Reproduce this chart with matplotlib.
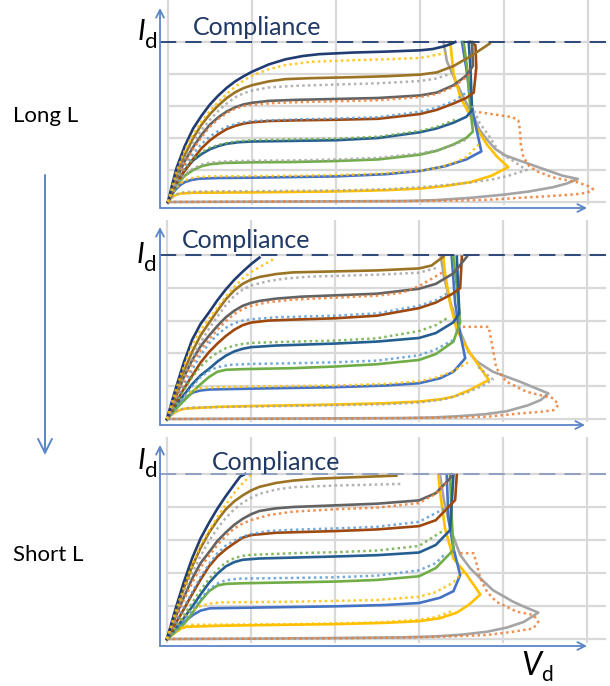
import matplotlib
matplotlib.use("Agg")
import matplotlib.pyplot as plt

# ---------------------------------------------------------------------------
# Id-Vd output curves, three gate lengths (long -> short).
# Each curve is a list of (Vd, Id) points in grid units; Id = 5 is compliance.
# Solid = measured set A, dotted = measured set B.
# ---------------------------------------------------------------------------

NAVY = "#213C73"
DGOLD = "#9A7424"
DGRAY = "#636363"
RUST = "#9E480E"
DBLUE = "#255E91"
GREEN = "#70AD47"
BLUE = "#4472C4"
GOLD = "#FFC000"
LGRAY = "#A5A5A5"
ORANGE = "#ED7D31"
LBLUE = "#5B9BD5"
AXIS_BLUE = "#5A86C8"
GRID = "#D9D9D9"

COMPLIANCE = 5.0
X_GRID = [0, 1, 2, 3, 4, 5]
Y_GRID = [0, 1, 2, 3, 4, 5]

# ---------------- Long L ----------------
P1_LGRAY = [(0, 0), (1, 0.01), (2, 0.02), (2.8, 0.03), (3.2, 0.06), (3.6, 0.13), (4.0, 0.23), (4.3, 0.33),
            (4.58, 0.46), (4.75, 0.58), (4.88, 0.72), (4.7, 0.82), (4.45, 1.05), (4.2, 1.28), (4.02, 1.45),
            (3.9, 1.65), (3.8, 1.94), (3.71, 2.25), (3.64, 2.66), (3.55, 3.1), (3.42, 3.8), (3.32, 4.4),
            (3.28, 5.0)]
P1_GOLD = [(0, 0), (0.03, 0.1), (0.06, 0.17), (0.1, 0.23), (0.14, 0.26), (0.3, 0.29), (1, 0.3), (2, 0.33),
           (2.6, 0.37), (3, 0.42), (3.3, 0.5), (3.6, 0.62), (3.85, 0.82), (4.05, 1.09), (3.92, 1.41),
           (3.8, 1.78), (3.69, 2.25), (3.56, 2.88), (3.48, 3.28), (3.4, 4.0), (3.36, 5.0)]
P1_BLUE = [(0, 0), (0.04, 0.2), (0.08, 0.36), (0.14, 0.52), (0.2, 0.62), (0.28, 0.69), (0.38, 0.73),
           (0.6, 0.75), (1, 0.76), (2, 0.8), (2.6, 0.87), (3, 0.97), (3.3, 1.12), (3.55, 1.33), (3.73, 1.58),
           (3.67, 2.3), (3.6, 3.2), (3.55, 4.2), (3.5, 5.0)]
P1_GREEN = [(0, 0), (0.05, 0.3), (0.1, 0.52), (0.2, 0.82), (0.3, 1.0), (0.4, 1.12), (0.5, 1.18), (0.66, 1.22),
            (1.0, 1.24), (1.5, 1.25), (2.0, 1.28), (2.5, 1.33), (3.0, 1.48), (3.2, 1.6), (3.4, 1.8),
            (3.55, 2.0), (3.63, 2.2), (3.6, 2.9), (3.56, 4.2), (3.52, 5.0)]
P1_DBLUE = [(0, 0), (0.05, 0.3), (0.1, 0.6), (0.2, 1.0), (0.3, 1.3), (0.4, 1.5), (0.5, 1.65), (0.6, 1.75),
            (0.7, 1.82), (0.85, 1.87), (1.0, 1.89), (1.5, 1.91), (2.0, 1.93), (2.5, 2.0), (3.0, 2.18),
            (3.2, 2.3), (3.4, 2.48), (3.55, 2.66), (3.62, 2.86), (3.6, 4.2), (3.58, 5.0)]
P1_RUST = [(0, 0), (0.05, 0.3), (0.1, 0.58), (0.2, 0.98), (0.3, 1.35), (0.4, 1.68), (0.5, 1.93), (0.6, 2.12),
           (0.7, 2.28), (0.8, 2.38), (0.9, 2.45), (1.0, 2.49), (1.2, 2.53), (1.5, 2.55), (2.0, 2.57),
           (2.5, 2.6), (3.0, 2.75), (3.2, 2.88), (3.4, 3.08), (3.55, 3.25), (3.64, 3.42), (3.67, 4.2),
           (3.66, 4.9), (3.6, 5.0)]
P1_DGRAY = [(0, 0), (0.05, 0.36), (0.1, 0.72), (0.2, 1.28), (0.3, 1.72), (0.4, 2.1), (0.5, 2.42), (0.6, 2.65),
            (0.7, 2.83), (0.8, 2.96), (0.9, 3.05), (1.0, 3.1), (1.2, 3.16), (1.5, 3.19), (2.0, 3.22),
            (2.5, 3.25), (3.0, 3.33), (3.2, 3.42), (3.4, 3.65), (3.55, 3.95), (3.63, 4.25), (3.62, 5.0)]
P1_DGOLD = [(0, 0), (0.05, 0.42), (0.1, 0.82), (0.2, 1.47), (0.3, 2.0), (0.4, 2.42), (0.5, 2.75), (0.6, 3.02),
            (0.7, 3.25), (0.8, 3.43), (0.9, 3.56), (1.0, 3.65), (1.2, 3.77), (1.4, 3.84), (1.7, 3.87),
            (2.2, 3.9), (2.6, 3.93), (3.0, 3.98), (3.2, 4.05), (3.4, 4.25), (3.6, 4.55), (3.83, 4.95)]
P1_NAVY = [(0, 0), (0.05, 0.55), (0.1, 1.05), (0.2, 1.75), (0.3, 2.3), (0.4, 2.7), (0.5, 3.05), (0.6, 3.33),
           (0.7, 3.57), (0.8, 3.77), (0.9, 3.93), (1.0, 4.07), (1.2, 4.3), (1.4, 4.46), (1.6, 4.56),
           (1.8, 4.62), (2.2, 4.67), (2.6, 4.7), (3.0, 4.74), (3.15, 4.78), (3.28, 4.86), (3.38, 4.95),
           (3.42, 5.0)]

P1_DOT_ORANGE = [(0, 0), (2, 0.02), (3, 0.03), (3.5, 0.05), (3.8, 0.07), (4.19, 0.13), (4.58, 0.19),
                 (4.85, 0.24), (4.99, 0.29), (5.06, 0.4), (5.0, 0.5), (4.87, 0.62), (4.58, 0.77), (4.4, 0.95),
                 (4.3, 1.12), (4.23, 1.41), (4.2, 1.8), (4.19, 2.25), (4.17, 2.55), (4.1, 2.65), (3.9, 2.73),
                 (3.69, 2.81)]
P1_DOT_GRAY_LOW = [(0, 0), (0.04, 0.12), (0.08, 0.21), (0.13, 0.27), (0.2, 0.31), (0.4, 0.33), (1, 0.34),
                   (2, 0.36), (2.6, 0.4), (3, 0.46), (3.3, 0.53), (3.6, 0.61), (3.85, 0.7), (4.05, 0.82),
                   (4.27, 1.0), (4.1, 1.3), (3.95, 1.53), (3.83, 2.03), (3.71, 2.47), (3.62, 3.0)]
P1_DOT_GOLD_LOW = [(0, 0), (0.05, 0.28), (0.1, 0.46), (0.17, 0.62), (0.25, 0.73), (0.35, 0.78), (0.5, 0.8),
                   (1.0, 0.81), (1.5, 0.82), (2.0, 0.84), (2.5, 0.88), (3.0, 0.98), (3.2, 1.06), (3.4, 1.22),
                   (3.55, 1.4), (3.7, 1.8)]
P1_DOT_GRAY_MID = [(0, 0), (0.05, 0.32), (0.1, 0.55), (0.2, 0.86), (0.3, 1.05), (0.4, 1.17), (0.5, 1.23),
                   (0.7, 1.27), (1.0, 1.29), (1.5, 1.3), (2.0, 1.33), (2.5, 1.38), (3.0, 1.52), (3.2, 1.62),
                   (3.4, 1.78), (3.55, 1.95)]
P1_DOT_GREEN = [(0, 0), (0.1, 0.62), (0.2, 1.05), (0.3, 1.35), (0.4, 1.56), (0.5, 1.7), (0.65, 1.82),
                (0.8, 1.89), (1.0, 1.93), (1.5, 1.96), (2.0, 1.98), (2.5, 2.04), (3.0, 2.22), (3.2, 2.35),
                (3.45, 2.6)]
P1_DOT_LBLUE = [(0, 0), (0.1, 0.6), (0.2, 1.1), (0.3, 1.5), (0.4, 1.82), (0.5, 2.05), (0.6, 2.22), (0.7, 2.35),
                (0.85, 2.47), (1.0, 2.53), (1.5, 2.58), (2.0, 2.61), (2.5, 2.65), (3.0, 2.82), (3.2, 2.95),
                (3.4, 3.15), (3.6, 3.5)]
P1_DOT_ORANGE_HI = [(0, 0), (0.1, 0.65), (0.2, 1.2), (0.3, 1.65), (0.4, 2.03), (0.5, 2.35), (0.6, 2.6),
                    (0.7, 2.78), (0.8, 2.92), (0.9, 3.0), (1.0, 3.04), (1.3, 3.1), (1.7, 3.13), (2.5, 3.18),
                    (3.0, 3.28), (3.2, 3.38), (3.4, 3.6), (3.6, 4.0)]
P1_DOT_GRAY_HI = [(0, 0), (0.1, 0.72), (0.2, 1.35), (0.3, 1.85), (0.4, 2.25), (0.5, 2.57), (0.6, 2.85),
                  (0.7, 3.08), (0.8, 3.27), (0.9, 3.4), (1.0, 3.48), (1.2, 3.58), (1.5, 3.63), (2.0, 3.67),
                  (2.5, 3.71), (3.0, 3.78), (3.2, 3.86), (3.4, 4.05)]
P1_DOT_GOLD_HI = [(0, 0), (0.1, 0.95), (0.2, 1.62), (0.3, 2.12), (0.4, 2.52), (0.5, 2.85), (0.6, 3.13),
                  (0.7, 3.38), (0.8, 3.6), (0.9, 3.8), (1.0, 3.95), (1.2, 4.15), (1.4, 4.28), (1.7, 4.38),
                  (2.2, 4.43), (2.7, 4.47), (3.0, 4.5), (3.3, 4.65)]

# ---------------- Medium L ----------------
P2_LGRAY = [(0, 0), (1, 0.01), (2, 0.02), (2.8, 0.03), (3.2, 0.05), (3.5, 0.09), (3.8, 0.15), (4.05, 0.24),
            (4.3, 0.42), (4.45, 0.58), (4.54, 0.78), (4.35, 0.98), (4.2, 1.14), (3.88, 1.44), (3.69, 1.75),
            (3.59, 2.05), (3.5, 2.6), (3.38, 3.5), (3.3, 4.3), (3.26, 4.95)]
P2_GOLD = [(0, 0), (0.04, 0.1), (0.08, 0.18), (0.12, 0.24), (0.17, 0.29), (0.23, 0.32), (0.6, 0.37),
           (1.1, 0.4), (2, 0.44), (2.6, 0.48), (3.0, 0.53), (3.25, 0.6), (3.41, 0.68), (3.6, 0.88),
           (3.83, 1.19), (3.61, 2.0), (3.45, 2.71), (3.37, 3.53), (3.31, 4.44), (3.29, 4.95)]
P2_BLUE = [(0, 0), (0.05, 0.15), (0.1, 0.3), (0.15, 0.43), (0.2, 0.58), (0.26, 0.72), (0.31, 0.81),
           (0.4, 0.87), (0.51, 0.9), (1.1, 0.93), (2, 0.97), (2.6, 1.02), (3.0, 1.09), (3.25, 1.24),
           (3.41, 1.44), (3.55, 1.85), (3.49, 2.61), (3.43, 3.53), (3.39, 4.95)]
P2_GREEN = [(0, 0), (0.05, 0.15), (0.1, 0.3), (0.2, 0.55), (0.3, 0.82), (0.4, 1.06), (0.5, 1.28), (0.6, 1.44),
            (0.7, 1.5), (0.9, 1.52), (1.5, 1.55), (2.0, 1.6), (2.5, 1.67), (3.0, 1.8), (3.2, 1.98),
            (3.41, 2.36), (3.49, 2.95), (3.45, 4.03), (3.41, 4.95)]
P2_DBLUE = [(0, 0), (0.05, 0.2), (0.1, 0.4), (0.2, 0.73), (0.3, 1.06), (0.4, 1.33), (0.5, 1.53), (0.6, 1.75),
            (0.7, 1.93), (0.8, 2.06), (0.9, 2.14), (1.0, 2.19), (1.3, 2.24), (2.0, 2.3), (2.5, 2.36),
            (3.0, 2.47), (3.2, 2.62), (3.41, 2.95), (3.48, 3.22), (3.45, 4.95)]
P2_RUST = [(0, 0), (0.05, 0.24), (0.1, 0.48), (0.2, 0.92), (0.3, 1.32), (0.4, 1.72), (0.5, 2.04), (0.6, 2.3),
           (0.7, 2.53), (0.8, 2.72), (0.9, 2.86), (1.0, 2.94), (1.2, 3.0), (1.5, 3.03), (2.0, 3.07),
           (2.5, 3.15), (3.0, 3.38), (3.2, 3.55), (3.4, 3.82), (3.49, 3.99), (3.51, 4.95)]
P2_DGRAY = [(0, 0), (0.05, 0.33), (0.1, 0.65), (0.2, 1.27), (0.3, 1.8), (0.4, 2.22), (0.5, 2.54), (0.6, 2.84),
            (0.7, 3.1), (0.8, 3.3), (0.9, 3.45), (1.0, 3.54), (1.1, 3.6), (1.3, 3.67), (1.6, 3.73),
            (2.0, 3.77), (2.5, 3.82), (3.0, 3.97), (3.2, 4.12), (3.41, 4.44), (3.57, 4.95)]
P2_DGOLD = [(0, 0), (0.05, 0.38), (0.1, 0.75), (0.2, 1.45), (0.3, 2.05), (0.4, 2.55), (0.5, 2.93), (0.6, 3.3),
            (0.7, 3.65), (0.8, 3.92), (0.9, 4.12), (1.0, 4.25), (1.1, 4.33), (1.3, 4.42), (1.5, 4.47),
            (2.0, 4.5), (2.5, 4.53), (3.0, 4.59), (3.15, 4.68), (3.29, 4.95)]
P2_NAVY = [(0, 0), (0.05, 0.46), (0.1, 0.9), (0.2, 1.72), (0.3, 2.42), (0.4, 2.9), (0.5, 3.25), (0.6, 3.62),
           (0.7, 3.95), (0.8, 4.24), (0.9, 4.49), (1.0, 4.72), (1.1, 4.92)]

P2_DOT_ORANGE = [(0, 0), (2, 0.01), (3, 0.03), (3.5, 0.05), (3.81, 0.07), (4.2, 0.17), (4.45, 0.22),
                 (4.6, 0.27), (4.66, 0.43), (4.6, 0.63), (4.28, 0.83), (4.04, 1.14), (3.92, 1.55),
                 (3.87, 2.26), (3.83, 2.81), (3.51, 2.81)]
P2_DOT_GRAY_LOW = [(0, 0), (0.04, 0.1), (0.1, 0.22), (0.16, 0.3), (0.3, 0.35), (1, 0.38), (2, 0.42),
                   (2.6, 0.45), (3, 0.5), (3.3, 0.6), (3.55, 0.78), (3.75, 1.0), (3.88, 1.2), (3.7, 1.6)]
P2_DOT_GOLD_LOW = [(0, 0), (0.05, 0.18), (0.1, 0.36), (0.15, 0.52), (0.22, 0.72), (0.3, 0.87), (0.4, 0.94),
                   (0.6, 0.97), (1.0, 0.99), (2, 1.02), (2.6, 1.07), (3, 1.15), (3.2, 1.26), (3.4, 1.45),
                   (3.6, 1.75)]
P2_DOT_LBLUE_LOW = [(0, 0), (0.1, 0.33), (0.2, 0.66), (0.3, 1.0), (0.4, 1.28), (0.5, 1.47), (0.6, 1.58),
                    (0.75, 1.65), (1.0, 1.68), (1.5, 1.7), (2.0, 1.73), (2.5, 1.78), (3.0, 1.94), (3.2, 2.12),
                    (3.4, 2.4)]
P2_DOT_GREEN = [(0, 0), (0.1, 0.45), (0.2, 0.88), (0.3, 1.28), (0.4, 1.6), (0.5, 1.84), (0.6, 2.02),
                (0.7, 2.16), (0.85, 2.27), (1.0, 2.32), (1.5, 2.36), (2.0, 2.39), (2.5, 2.46), (3.0, 2.68),
                (3.2, 2.86), (3.35, 3.1)]
P2_DOT_LBLUE_HI = [(0, 0), (0.1, 0.52), (0.2, 1.02), (0.3, 1.5), (0.4, 1.95), (0.5, 2.3), (0.6, 2.57),
                   (0.7, 2.78), (0.8, 2.92), (0.9, 3.0), (1.0, 3.04), (1.3, 3.1), (2.0, 3.15), (2.5, 3.22),
                   (3.0, 3.45), (3.2, 3.62), (3.35, 3.85)]
P2_DOT_ORANGE_HI = [(0, 0), (0.1, 0.6), (0.2, 1.15), (0.3, 1.67), (0.4, 2.1), (0.5, 2.42), (0.6, 2.72),
                    (0.7, 2.98), (0.8, 3.2), (0.9, 3.35), (1.0, 3.45), (1.2, 3.56), (1.5, 3.64), (2.0, 3.7),
                    (2.5, 3.76), (2.8, 3.85), (3.0, 4.05), (3.3, 4.5)]
P2_DOT_GRAY_HI = [(0, 0), (0.1, 0.7), (0.2, 1.3), (0.3, 1.86), (0.4, 2.34), (0.5, 2.75), (0.6, 3.12),
                  (0.7, 3.47), (0.8, 3.75), (0.9, 3.94), (1.0, 4.07), (1.2, 4.2), (1.4, 4.28), (1.7, 4.34),
                  (2.5, 4.4), (3.0, 4.46), (3.2, 4.6)]
P2_DOT_GOLD_HI = [(0, 0), (0.1, 0.85), (0.2, 1.6), (0.3, 2.25), (0.4, 2.72), (0.5, 3.05), (0.6, 3.4),
                  (0.7, 3.73), (0.8, 4.02), (0.9, 4.28), (1.0, 4.48), (1.15, 4.7), (1.27, 4.88)]

# ---------------- Short L ----------------
P3_LGRAY = [(0, 0), (1, 0.01), (2, 0.03), (2.8, 0.05), (3.2, 0.08), (3.5, 0.13), (3.81, 0.22), (4.05, 0.35),
            (4.25, 0.52), (4.42, 0.8), (4.25, 0.98), (4.12, 1.13), (3.88, 1.48), (3.73, 1.84), (3.61, 2.14),
            (3.49, 2.55), (3.38, 3.3), (3.3, 4.16), (3.25, 4.97)]
P3_GOLD = [(0, 0), (0.04, 0.08), (0.08, 0.16), (0.12, 0.24), (0.17, 0.32), (0.23, 0.37), (0.6, 0.4),
           (1.1, 0.42), (2, 0.45), (2.6, 0.49), (3.0, 0.54), (3.25, 0.63), (3.45, 0.8), (3.6, 1.05),
           (3.73, 1.35), (3.57, 1.94), (3.41, 2.44), (3.31, 3.35), (3.25, 4.46), (3.23, 4.97)]
P3_BLUE = [(0, 0), (0.05, 0.12), (0.1, 0.24), (0.15, 0.37), (0.2, 0.5), (0.26, 0.63), (0.31, 0.73),
           (0.4, 0.86), (0.51, 0.93), (1.0, 0.95), (2, 0.99), (2.6, 1.03), (3.0, 1.09), (3.25, 1.25),
           (3.41, 1.45), (3.49, 1.94), (3.41, 2.75), (3.35, 3.66), (3.33, 4.97)]
P3_GREEN = [(0, 0), (0.05, 0.11), (0.1, 0.22), (0.2, 0.45), (0.3, 0.78), (0.4, 1.15), (0.5, 1.45), (0.6, 1.62),
            (0.7, 1.67), (0.91, 1.69), (2, 1.74), (2.5, 1.79), (3.0, 1.9), (3.2, 2.15), (3.41, 2.7),
            (3.39, 3.66), (3.37, 4.97)]
P3_DBLUE = [(0, 0), (0.05, 0.16), (0.1, 0.32), (0.2, 0.63), (0.3, 0.98), (0.4, 1.35), (0.5, 1.7), (0.6, 1.98),
            (0.7, 2.2), (0.8, 2.33), (0.9, 2.4), (1.1, 2.44), (2.0, 2.5), (2.5, 2.54), (3.0, 2.62),
            (3.2, 2.85), (3.37, 3.3), (3.41, 4.97)]
P3_RUST = [(0, 0), (0.05, 0.23), (0.1, 0.46), (0.2, 0.9), (0.3, 1.36), (0.4, 1.8), (0.5, 2.2), (0.6, 2.5),
           (0.7, 2.72), (0.8, 2.9), (0.9, 3.07), (1.0, 3.15), (1.3, 3.22), (2.0, 3.27), (2.5, 3.32),
           (3.0, 3.42), (3.2, 3.6), (3.43, 4.21), (3.45, 4.97)]
P3_DGRAY = [(0, 0), (0.05, 0.33), (0.1, 0.66), (0.2, 1.26), (0.3, 1.83), (0.4, 2.3), (0.5, 2.63), (0.6, 2.97),
            (0.7, 3.23), (0.8, 3.46), (0.9, 3.64), (1.0, 3.78), (1.1, 3.88), (1.3, 3.96), (1.5, 4.0),
            (2.0, 4.05), (2.5, 4.1), (3.0, 4.2), (3.2, 4.42), (3.37, 4.87), (3.39, 4.99)]
P3_DGOLD = [(0, 0), (0.05, 0.4), (0.1, 0.8), (0.2, 1.53), (0.3, 2.2), (0.4, 2.76), (0.5, 3.22), (0.6, 3.6),
            (0.7, 3.93), (0.8, 4.17), (0.9, 4.35), (1.0, 4.5), (1.1, 4.61), (1.3, 4.73), (1.5, 4.8),
            (1.8, 4.86), (2.2, 4.9), (2.73, 4.95)]
P3_NAVY = [(0, 0), (0.05, 0.45), (0.1, 0.9), (0.2, 1.72), (0.3, 2.45), (0.4, 3.05), (0.5, 3.52), (0.6, 3.95),
           (0.7, 4.33), (0.8, 4.68), (0.87, 4.92), (0.93, 5.0)]

P3_DOT_ORANGE = [(0, 0), (2, 0.02), (3, 0.05), (3.5, 0.09), (3.81, 0.12), (4.12, 0.22), (4.36, 0.32),
                 (4.42, 0.52), (4.36, 0.73), (4.16, 0.83), (3.92, 1.13), (3.81, 1.43), (3.73, 1.84),
                 (3.69, 2.24), (3.65, 2.6), (3.45, 2.6)]
P3_DOT_GOLD_LOW = [(0, 0), (0.04, 0.1), (0.08, 0.2), (0.13, 0.3), (0.2, 0.38), (0.3, 0.43), (1.5, 0.45),
                   (2.5, 0.5), (3.0, 0.58), (3.2, 0.66), (3.4, 0.85)]
P3_DOT_GOLD_MID = [(0, 0), (0.05, 0.18), (0.1, 0.36), (0.15, 0.52), (0.22, 0.72), (0.3, 0.88), (0.4, 1.0),
                   (0.5, 1.07), (0.65, 1.11), (1.5, 1.13), (2.5, 1.18), (3.0, 1.28), (3.2, 1.42), (3.4, 1.7),
                   (3.55, 2.1)]
P3_DOT_LBLUE_LOW = [(0, 0), (0.1, 0.26), (0.2, 0.55), (0.3, 0.88), (0.4, 1.22), (0.5, 1.5), (0.6, 1.68),
                    (0.7, 1.78), (0.85, 1.83), (1.5, 1.85), (2.0, 1.87), (2.5, 1.92), (3.0, 2.08), (3.2, 2.3),
                    (3.3, 2.55)]
P3_DOT_GREEN = [(0, 0), (0.1, 0.35), (0.2, 0.72), (0.3, 1.1), (0.4, 1.48), (0.5, 1.82), (0.6, 2.1),
                (0.7, 2.32), (0.8, 2.45), (0.9, 2.52), (1.0, 2.55), (1.5, 2.6), (2.0, 2.63), (2.5, 2.68),
                (3.0, 2.82), (3.3, 3.3)]
P3_DOT_LBLUE_HI = [(0, 0), (0.1, 0.47), (0.2, 0.95), (0.3, 1.42), (0.4, 1.88), (0.5, 2.27), (0.6, 2.6),
                   (0.7, 2.83), (0.8, 2.98), (0.9, 3.1), (1.0, 3.18), (1.2, 3.27), (1.5, 3.31), (2.0, 3.35),
                   (2.5, 3.4), (3.0, 3.55), (3.3, 3.95)]
P3_DOT_ORANGE_HI = [(0, 0), (0.1, 0.6), (0.2, 1.18), (0.3, 1.7), (0.4, 2.17), (0.5, 2.52), (0.6, 2.85),
                    (0.7, 3.12), (0.8, 3.35), (0.9, 3.5), (1.0, 3.6), (1.2, 3.75), (1.5, 3.86), (2.0, 3.93),
                    (2.5, 3.98), (3.0, 4.12), (3.2, 4.4), (3.35, 4.8)]
P3_DOT_GRAY_HI = [(0, 0), (0.1, 0.7), (0.2, 1.38), (0.3, 2.0), (0.4, 2.52), (0.5, 2.97), (0.6, 3.35),
                  (0.7, 3.67), (0.8, 3.93), (0.9, 4.13), (1.0, 4.28), (1.1, 4.4), (1.3, 4.53), (1.5, 4.6),
                  (2.0, 4.65), (2.5, 4.68), (2.8, 4.7)]
P3_DOT_GOLD_HI = [(0, 0), (0.1, 0.82), (0.2, 1.55), (0.3, 2.25), (0.4, 2.85), (0.5, 3.28), (0.6, 3.7),
                  (0.7, 4.07), (0.8, 4.42), (0.9, 4.72), (1.0, 4.97)]

PANELS = [
    dict(solid=[(P1_LGRAY, LGRAY), (P1_GOLD, GOLD), (P1_BLUE, BLUE), (P1_GREEN, GREEN),
                (P1_DBLUE, DBLUE), (P1_RUST, RUST), (P1_DGRAY, DGRAY), (P1_DGOLD, DGOLD),
                (P1_NAVY, NAVY)],
         dotted=[(P1_DOT_ORANGE, ORANGE), (P1_DOT_GRAY_LOW, LGRAY), (P1_DOT_GOLD_LOW, GOLD),
                 (P1_DOT_GRAY_MID, LGRAY), (P1_DOT_GREEN, GREEN), (P1_DOT_LBLUE, LBLUE),
                 (P1_DOT_ORANGE_HI, ORANGE), (P1_DOT_GRAY_HI, LGRAY), (P1_DOT_GOLD_HI, GOLD)],
         x0=168, y0=202, sy=32.0, grid_top=0, y_tip=8, x_axis=208, x_tip=587,
         comp_color=NAVY, comp_text=(193, 35), id_label=(141, 40)),
    dict(solid=[(P2_LGRAY, LGRAY), (P2_GOLD, GOLD), (P2_BLUE, BLUE), (P2_GREEN, GREEN),
                (P2_DBLUE, DBLUE), (P2_RUST, RUST), (P2_DGRAY, DGRAY), (P2_DGOLD, DGOLD),
                (P2_NAVY, NAVY)],
         dotted=[(P2_DOT_ORANGE, ORANGE), (P2_DOT_GRAY_LOW, LGRAY), (P2_DOT_GOLD_LOW, GOLD),
                 (P2_DOT_LBLUE_LOW, LBLUE), (P2_DOT_GREEN, GREEN), (P2_DOT_LBLUE_HI, LBLUE),
                 (P2_DOT_ORANGE_HI, ORANGE), (P2_DOT_GRAY_HI, LGRAY), (P2_DOT_GOLD_HI, GOLD)],
         x0=167, y0=419, sy=32.8, grid_top=220, y_tip=227, x_axis=425, x_tip=585,
         comp_color=NAVY, comp_text=(182, 248), id_label=(140, 263)),
    dict(solid=[(P3_LGRAY, LGRAY), (P3_GOLD, GOLD), (P3_BLUE, BLUE), (P3_GREEN, GREEN),
                (P3_DBLUE, DBLUE), (P3_RUST, RUST), (P3_DGRAY, DGRAY), (P3_DGOLD, DGOLD),
                (P3_NAVY, NAVY)],
         dotted=[(P3_DOT_ORANGE, ORANGE), (P3_DOT_GOLD_LOW, GOLD), (P3_DOT_GOLD_MID, GOLD),
                 (P3_DOT_LBLUE_LOW, LBLUE), (P3_DOT_GREEN, GREEN), (P3_DOT_LBLUE_HI, LBLUE),
                 (P3_DOT_ORANGE_HI, ORANGE), (P3_DOT_GRAY_HI, LGRAY), (P3_DOT_GOLD_HI, GOLD)],
         x0=167, y0=639, sy=33.0, grid_top=437, y_tip=445, x_axis=646, x_tip=587,
         comp_color="#8A9CBE", comp_text=(212, 470), id_label=(141, 469)),
]

W, H = 610, 686
SX = 84.0          # pixels per Vd grid unit
Y_AXIS_PX = 160    # x pixel of the Id axis
GRID_RIGHT_PX = 606
FONT = "Lato"

fig = plt.figure(figsize=(W / 100, H / 100), dpi=100)
fig.patch.set_facecolor("white")

for p in PANELS:
    x0, y0, sy = p["x0"], p["y0"], p["sy"]
    ax = fig.add_axes([0, 0, 1, 1])
    ax.set_xlim(-x0 / SX, (W - x0) / SX)
    ax.set_ylim((y0 - H) / sy, y0 / sy)
    ax.axis("off")
    ax.patch.set_alpha(0)

    def dx(px):
        return (px - x0) / SX

    def dy(py):
        return (y0 - py) / sy

    # light grid
    ax.vlines(X_GRID, dy(p["x_axis"] - 3), dy(p["grid_top"]), colors=GRID, lw=1.6, zorder=1)
    ax.hlines(Y_GRID, X_GRID[0], dx(GRID_RIGHT_PX), colors=GRID, lw=1.6, zorder=1)

    # curves
    for pts, c in p["solid"]:
        xs = [q[0] for q in pts]
        ys = [q[1] for q in pts]
        ax.plot(xs, ys, color=c, lw=1.9, solid_joinstyle="round", zorder=3)
    for pts, c in p["dotted"]:
        xs = [q[0] for q in pts]
        ys = [q[1] for q in pts]
        ax.plot(xs, ys, color=c, lw=1.8, ls=(0, (1.0, 1.3)), alpha=0.85, zorder=4)

    # compliance level
    ax.hlines(COMPLIANCE, dx(Y_AXIS_PX), dx(GRID_RIGHT_PX), colors=p["comp_color"], lw=1.3,
              linestyles=(0, (9, 5)), zorder=5)

    # axes arrows
    arrow = dict(arrowstyle="->,head_length=0.55,head_width=0.28", color=AXIS_BLUE, lw=1.3,
                 shrinkA=0, shrinkB=0)
    ax.annotate("", xy=(dx(Y_AXIS_PX), dy(p["y_tip"])), xytext=(dx(Y_AXIS_PX), dy(p["x_axis"])),
                arrowprops=arrow, zorder=6)
    ax.annotate("", xy=(dx(p["x_tip"]), dy(p["x_axis"])), xytext=(dx(Y_AXIS_PX), dy(p["x_axis"])),
                arrowprops=arrow, zorder=6)

# text overlay in pixel coordinates
tx = fig.add_axes([0, 0, 1, 1])
tx.set_xlim(0, W)
tx.set_ylim(H, 0)
tx.axis("off")
tx.patch.set_alpha(0)

for p in PANELS:
    cx, cy = p["comp_text"]
    tx.text(cx, cy, "Compliance", fontsize=18, color="#1F3864", family=FONT,
            ha="left", va="baseline")
    ix, iy = p["id_label"]
    tx.text(ix, iy, "I", fontsize=21, style="italic", family=FONT, ha="center", va="baseline",
            color="black")
    tx.text(ix + 10, iy + 8, "d", fontsize=16, family=FONT, ha="center", va="baseline",
            color="black")

# Vd label
tx.text(531, 675, "V", fontsize=23, style="italic", family=FONT, ha="center", va="baseline")
tx.text(547, 681, "d", fontsize=15, family=FONT, ha="center", va="baseline")

# gate-length trend
tx.text(13, 122, "Long L", fontsize=16, family=FONT, ha="left", va="baseline")
tx.text(13, 561, "Short L", fontsize=16, family=FONT, ha="left", va="baseline")
tx.annotate("", xy=(45, 455), xytext=(45, 175),
            arrowprops=dict(arrowstyle="->,head_length=1.0,head_width=0.5", color=AXIS_BLUE,
                            lw=1.4, shrinkA=0, shrinkB=0))

fig.savefig("out.png", dpi=100)
